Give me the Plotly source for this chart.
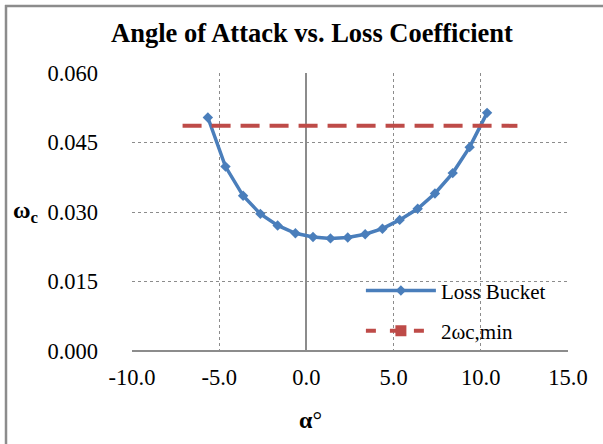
import plotly.graph_objects as go

# Data
alpha = [-5.65, -4.64, -3.63, -2.64, -1.65, -0.63, 0.38, 1.38, 2.37, 3.37,
         4.36, 5.35, 6.38, 7.37, 8.39, 9.36, 10.36]
omega_c = [0.0504, 0.0398, 0.0335, 0.0296, 0.0271, 0.0254, 0.0246, 0.0243,
           0.0245, 0.0252, 0.0264, 0.0283, 0.0307, 0.0340, 0.0384, 0.0440, 0.0514]
min_x = [-7.1, 12.1]
min_y = [0.0486, 0.0486]
x_ticks = [-10, -5, 0, 5, 10, 15]
x_tick_labels = ["-10.0", "-5.0", "0.0", "5.0", "10.0", "15.0"]
y_ticks = [0.000, 0.015, 0.030, 0.045, 0.060]
y_tick_labels = ["0.000", "0.015", "0.030", "0.045", "0.060"]

FONT = "Liberation Serif"
BLUE = "#4A7EBB"
RED = "#BE4B48"
GRID = "#8c8c8c"

fig = go.Figure()
fig.add_trace(go.Scatter(
    x=alpha, y=omega_c, mode="lines+markers", name="Loss Bucket",
    line=dict(color=BLUE, width=3.5),
    marker=dict(symbol="diamond", size=8, color=BLUE),
    legendgroup="a",
))
fig.add_trace(go.Scatter(
    x=min_x, y=min_y, mode="lines", name="2ωc,min",
    line=dict(color=RED, width=4, dash="19px,10px"),
    showlegend=False,
))
fig.add_trace(go.Scatter(
    x=[None], y=[None], mode="lines+markers", name="2ωc,min",
    line=dict(color=RED, width=4, dash="10px,14px"),
    marker=dict(symbol="square", size=11, color=RED),
    legendgroup="b",
))

fig.update_layout(
    width=603, height=444,
    margin=dict(l=132, r=35, t=73, b=93),
    paper_bgcolor="white", plot_bgcolor="white",
    font=dict(family=FONT, size=20, color="black"),
    title=dict(text="<b>Angle of Attack vs. Loss Coefficient</b>",
               x=312/603, xanchor="center", y=1-33/444, yanchor="middle",
               font=dict(family=FONT, size=26.5, color="black")),
    showlegend=True,
    legend=dict(x=0.525, y=0.29, xanchor="left", yanchor="top",
                bgcolor="rgba(0,0,0,0)", font=dict(family=FONT, size=21),
                itemwidth=70, tracegroupgap=10, traceorder="grouped"),
    xaxis=dict(range=[-10, 15], tickvals=x_ticks, ticktext=x_tick_labels,
               showgrid=True, gridcolor=GRID, griddash="dot", gridwidth=1,
               zeroline=True, zerolinecolor=GRID, zerolinewidth=2,
               showline=False, ticks="", ticklabelstandoff=10,
               tickfont=dict(family=FONT, size=22.5)),
    yaxis=dict(range=[0, 0.06], tickvals=y_ticks, ticktext=y_tick_labels,
               showgrid=True, gridcolor=GRID, griddash="dot", gridwidth=1,
               zeroline=True, zerolinecolor=GRID, zerolinewidth=2,
               showline=False, ticks="", ticklabelstandoff=33,
               tickfont=dict(family=FONT, size=22.5)),
    annotations=[
        dict(text="<b>ω<sub>c</sub></b>", xref="paper", yref="paper",
             x=(26-132)/436, y=(351-212)/278, xanchor="center", yanchor="middle",
             showarrow=False, font=dict(family=FONT, size=24)),
        dict(text="<b>α</b>°", xref="paper", yref="paper",
             x=(310-132)/436, y=(351-420)/278, xanchor="center", yanchor="middle",
             showarrow=False, font=dict(family=FONT, size=24)),
    ],
    shapes=[
        dict(type="line", xref="paper", yref="paper",
             x0=(6-132)/436, x1=(6-132)/436, y0=(351-460)/278, y1=(351-5)/278,
             line=dict(color="#8c8c8c", width=2.5), layer="below"),
        dict(type="line", xref="paper", yref="paper",
             x0=(5-132)/436, x1=(620-132)/436, y0=(351-6)/278, y1=(351-6)/278,
             line=dict(color="#8c8c8c", width=2.5), layer="below"),
    ],
)

fig.write_html("out.html")
